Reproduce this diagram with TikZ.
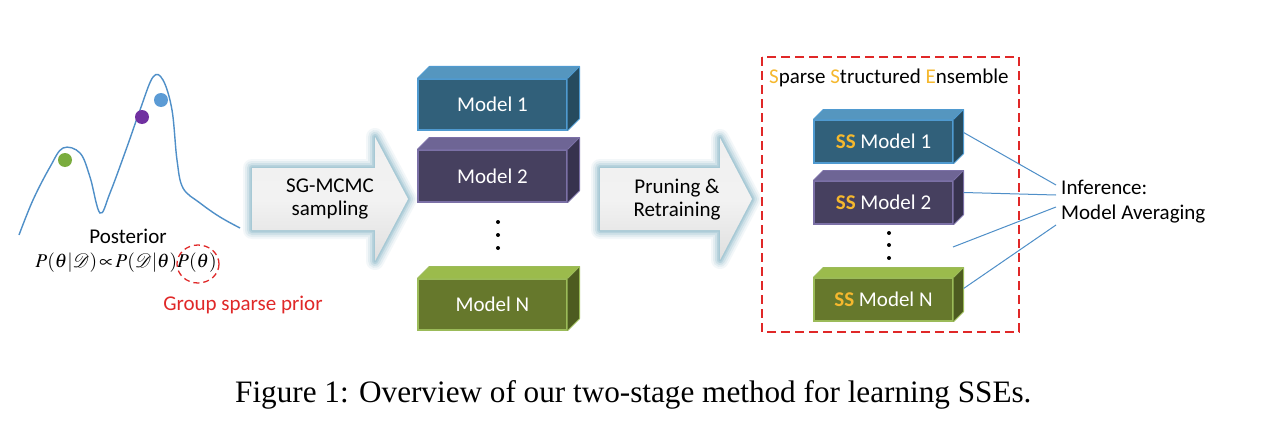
\documentclass[tikz,border=0pt]{standalone}
\usepackage{mathptmx}
\usepackage{fontspec}
\setmainfont{Carlito}
\newfontfamily\capfont{Liberation Serif}
\usetikzlibrary{calc}
\definecolor{curveblue}{HTML}{4F8FC8}
\definecolor{gold}{HTML}{F5B82E}
\definecolor{redd}{HTML}{E02828}
\definecolor{glow}{HTML}{9DC3D1}
\definecolor{aF}{HTML}{31607A}\definecolor{aT}{HTML}{5596BF}\definecolor{aS}{HTML}{264B5E}\definecolor{aB}{HTML}{4F9AD0}
\definecolor{bF}{HTML}{46405F}\definecolor{bT}{HTML}{6E6595}\definecolor{bS}{HTML}{37324E}\definecolor{bB}{HTML}{7B70A6}
\definecolor{cF}{HTML}{66782C}\definecolor{cT}{HTML}{9BBB4C}\definecolor{cS}{HTML}{4D5B20}\definecolor{cB}{HTML}{9BBB59}
\tikzset{
  modelbox/.style={draw, line width=1.2pt, inner sep=0pt, text=white, font=\fontsize{21}{24}\selectfont},
  lbl/.style={font=\fontsize{21}{24}\selectfont, inner sep=0pt},
  connector/.style={draw=curveblue, line width=1pt},
  dotb/.style={circle, fill=black, inner sep=0pt, minimum size=4pt},
}
\newcommand{\mkcube}[5]{% name, top color, side color, border, depth
  \fill[#2] (#1.north west) -- ($(#1.north west)+(#5,-#5)$) -- ($(#1.north east)+(#5,-#5)$) -- (#1.north east) -- cycle;
  \fill[#3] (#1.north east) -- ($(#1.north east)+(#5,-#5)$) -- ($(#1.south east)+(#5,-#5)$) -- (#1.south east) -- cycle;
  \draw[#4, line width=0.8pt, line join=round] (#1.north west) -- ($(#1.north west)+(#5,-#5)$) -- ($(#1.north east)+(#5,-#5)$) -- ($(#1.south east)+(#5,-#5)$) -- (#1.south east);
  \draw[#4, line width=0.8pt] (#1.north east) -- ($(#1.north east)+(#5,-#5)$);
}
\newcommand{\bigarrow}[6]{% x0, x1 (head start), x2 (tip), ytop body, ybot body, head half
  \foreach \w/\o in {18/0.12,14/0.18,10/0.28,6/0.45,3/0.6}{
    \draw[glow, line width=\w pt, opacity=\o, line join=round]
      (#1,#4) -- (#2,#4) -- (#2,199-#6) -- (#3,199) -- (#2,199+#6) -- (#2,#5) -- (#1,#5) -- cycle;
  }
  \shade[top color=gray!12, bottom color=gray!25, middle color=gray!10]
      (#1,#4) -- (#2,#4) -- (#2,199-#6) -- (#3,199) -- (#2,199+#6) -- (#2,#5) -- (#1,#5) -- cycle;
}
\begin{document}
\begin{tikzpicture}[x=1pt,y=-1pt]
\useasboundingbox (0,0) rectangle (1264,428);
\fill[white] (0,0) rectangle (1264,428);

% posterior curve
\draw[curveblue, line width=1.4pt] plot[smooth, tension=0.6] coordinates {
 (19,235) (33,200) (50,167) (63,148) (80,153) (90,177) (100,213) (110,193) (127,147)
 (140,110) (153,77) (163,80) (172,110) (177,160) (183,188) (200,203) (220,217) (240,228)};
\fill[fill={rgb,255:red,122;green,172;blue,62}] (65,160) circle (7);
\fill[fill={rgb,255:red,112;green,48;blue,160}] (142,117) circle (7);
\fill[fill={rgb,255:red,91;green,155;blue,213}] (161,100) circle (7);

\node[lbl] (post) at (128,236) {Posterior};
\node[inner sep=0pt, font=\fontsize{19.5}{21}\selectfont] (form) at (126,263)
  {$P(\theta|\mathcal{D})\!\propto\! P(\mathcal{D}|\theta)P(\theta)$};
\draw[redd, line width=1.3pt, dash pattern=on 6pt off 4pt] (198,264) ellipse (21 and 19);
\node[lbl, text=redd] (gsp) at (243,305) {Group sparse prior};

% arrow 1
\bigarrow{252}{375}{408}{168}{230}{62}
\node[lbl] (a1) at (330,199) {\begin{tabular}{@{}c@{}}SG-MCMC\\[-1pt] sampling\end{tabular}};

% models column 1
\node[modelbox, fill=aF, draw=aB, minimum width=149pt, minimum height=51pt] (m1) at (492.5,104.5) {Model 1};
\mkcube{m1}{aT}{aS}{aB}{12}
\node[modelbox, fill=bF, draw=bB, minimum width=149pt, minimum height=52pt] (m2) at (492.5,176) {Model 2};
\mkcube{m2}{bT}{bS}{bB}{12}
\node[modelbox, fill=cF, draw=cB, minimum width=149pt, minimum height=51pt] (mn) at (492.5,304.5) {Model N};
\mkcube{mn}{cT}{cS}{cB}{12}
\node[dotb] (d1) at (498,222) {};
\node[dotb] (d2) at (498,235) {};
\node[dotb] (d3) at (498,248) {};

% arrow 2
\bigarrow{600}{720}{752}{168}{230}{61}
\node[lbl] (a2) at (677,200) {\begin{tabular}{@{}c@{}}Pruning \&\\[-1pt] Retraining\end{tabular}};

% SSE box
\draw[redd, line width=1.6pt, dash pattern=on 9pt off 5pt] (762,57) rectangle (1019,332);
\node[lbl, anchor=west] (title) at (769,78) {\textcolor{gold}{S}parse \textcolor{gold}{S}tructured \textcolor{gold}{E}nsemble};

\node[modelbox, fill=aF, draw=aB, minimum width=139pt, minimum height=43pt] (s1) at (883.5,141.5) {\textcolor{gold}{\bfseries SS} Model 1};
\mkcube{s1}{aT}{aS}{aB}{10}
\node[modelbox, fill=bF, draw=bB, minimum width=139pt, minimum height=43pt] (s2) at (883.5,202.5) {\textcolor{gold}{\bfseries SS} Model 2};
\mkcube{s2}{bT}{bS}{bB}{10}
\node[modelbox, fill=cF, draw=cB, minimum width=139pt, minimum height=43pt] (sn) at (883.5,299.5) {\textcolor{gold}{\bfseries SS} Model N};
\mkcube{sn}{cT}{cS}{cB}{10}
\node[dotb] (e1) at (889,233) {};
\node[dotb] (e2) at (889,245) {};
\node[dotb] (e3) at (889,258) {};
\coordinate (sdots) at (953,247);

\node[lbl, anchor=north west, align=left] (inf) at (1061,180) {Inference:\\[1pt] Model Averaging};
\coordinate (i1) at (1056,185);
\coordinate (i2) at (1056,195);
\coordinate (i3) at (1056,207);
\coordinate (i4) at (1056,225);
\draw[connector] ($(s1.east)+(10,-9)$) -- (i1);
\draw[connector] ($(s2.east)+(10,-10)$) -- (i2);
\draw[connector] (sdots) -- (i3);
\draw[connector] ($(sn.east)+(10,-11)$) -- (i4);

% caption
\node[inner sep=0pt, anchor=base west, font=\capfont\fontsize{31.2}{34}\selectfont] (cap) at (235,402)
  {Figure 1: Overview of our two-stage method for learning SSEs.};
\end{tikzpicture}
\end{document}
